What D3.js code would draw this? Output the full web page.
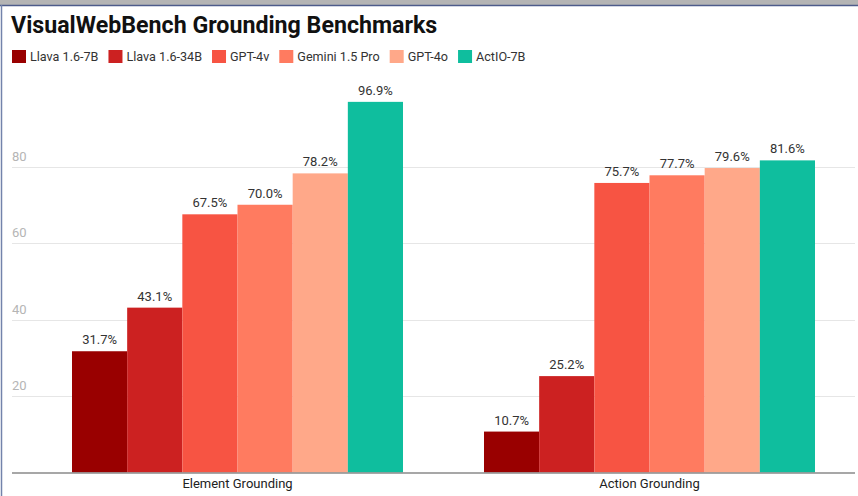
<!DOCTYPE html>
<html><head><meta charset="utf-8">
<script src="https://cdn.jsdelivr.net/npm/d3@7"></script>
<style>body{margin:0;background:#fff;}svg{display:block;font-family:Roboto,"Liberation Sans",sans-serif;}</style>
</head><body>
<svg id="chart" width="858" height="496"></svg>
<script>
const categories = ["Element Grounding", "Action Grounding"];
const models = ["Llava 1.6-7B", "Llava 1.6-34B", "GPT-4v", "Gemini 1.5 Pro", "GPT-4o", "ActIO-7B"];
const elementValues = [31.7, 43.1, 67.5, 70.0, 78.2, 96.9];
const actionValues = [10.7, 25.2, 75.7, 77.7, 79.6, 81.6];
const colors = ["#990000", "#cc2121", "#f75443", "#ff7b60", "#ffa889", "#0fbe9e"];
const yTicks = [20, 40, 60, 80];
const title = "VisualWebBench Grounding Benchmarks";

const seriesByCategory = [elementValues, actionValues];
const svg = d3.select("#chart");

// frame
svg.append("rect").attr("x",0).attr("y",0).attr("width",858).attr("height",5).attr("fill","#b4b4b4");
svg.append("line").attr("x1",0).attr("x2",858).attr("y1",5.5).attr("y2",5.5).attr("stroke","#4d5b8a").attr("stroke-width",1.5);
svg.append("line").attr("x1",1.5).attr("x2",1.5).attr("y1",5).attr("y2",496).attr("stroke","#7383ab").attr("stroke-width",1.5);

const y = d3.scaleLinear().domain([0, 100]).range([472.5, 90]);
const x0 = d3.scaleBand().domain(categories).range([31.5, 855.5]).paddingInner(0.1966).paddingOuter(0.0983);
const x1 = d3.scaleBand().domain(models).range([0, x0.bandwidth()]).padding(0);

// gridlines + tick labels
const grid = svg.append("g");
yTicks.forEach(t => {
  grid.append("line").attr("x1",12).attr("x2",855).attr("y1",Math.round(y(t))+0.5).attr("y2",Math.round(y(t))+0.5)
    .attr("stroke","#e6e6e6").attr("stroke-width",1);
  grid.append("text").attr("x",12).attr("y",y(t)-6).attr("fill","#b5b5b5").attr("font-size",13).text(t);
});

// bars
const groups = svg.append("g").selectAll("g").data(categories).join("g")
  .attr("transform", d => `translate(${x0(d)},0)`);
groups.each(function(cat, ci){
  const g = d3.select(this);
  const vals = seriesByCategory[ci];
  g.selectAll("rect").data(models).join("rect")
    .attr("x", m => x1(m)).attr("width", x1.bandwidth())
    .attr("y", (m,i) => y(vals[i])).attr("height", (m,i) => y(0) - y(vals[i]))
    .attr("fill", (m,i) => colors[i]);
  g.selectAll("text").data(models).join("text")
    .attr("x", m => x1(m) + x1.bandwidth()/2).attr("y", (m,i) => y(vals[i]) - 7)
    .attr("text-anchor","middle").attr("font-size",13).attr("fill","#333")
    .text((m,i) => vals[i].toFixed(1) + "%");
});

// baseline axis
svg.append("line").attr("x1",12).attr("x2",855).attr("y1",y(0)+0.5).attr("y2",y(0)+0.5).attr("stroke","#8a8a8a").attr("stroke-width",1.5);

// category axis labels
const xAxis = d3.axisBottom(x0).tickSize(0).tickPadding(6);
const ax = svg.append("g").attr("transform",`translate(0,${y(0)})`).call(xAxis);
ax.select(".domain").remove();
ax.selectAll("text").attr("font-size",13).attr("fill","#222").attr("font-family","Roboto, sans-serif");

// title
svg.append("text").attr("x",11).attr("y",33).attr("font-size",23.2).attr("font-weight",700).attr("fill","#111").text(title);

// legend
const legend = svg.append("g");
let lx = 12;
models.forEach((m,i) => {
  legend.append("rect").attr("x",lx).attr("y",50).attr("width",14).attr("height",13).attr("fill",colors[i]);
  const t = legend.append("text").attr("x",lx+18).attr("y",61).attr("font-size",12.6).attr("fill","#333").text(m);
  lx += 18 + t.node().getComputedTextLength() + 10;
});
</script>
</body></html>
